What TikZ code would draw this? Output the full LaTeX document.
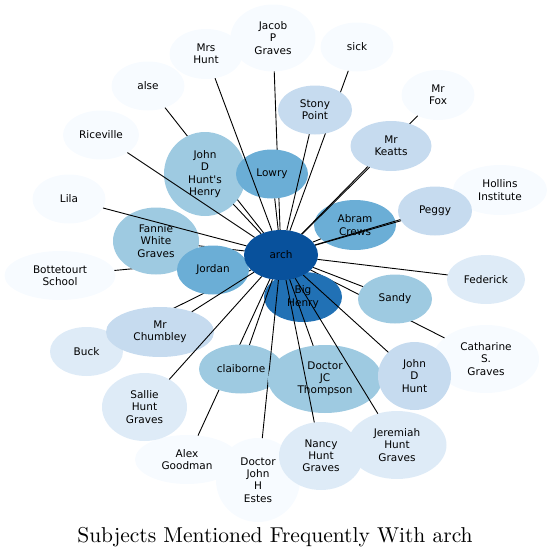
\documentclass[tikz,border=0pt]{standalone}
\usepackage{fontspec}
\usepackage{xcolor}
\usepackage{tikz}
\usetikzlibrary{shapes.geometric}
\newfontfamily\labelfont{DejaVu Sans}
\definecolor{archwhite}{HTML}{F7FBFF}
\definecolor{archpale}{HTML}{DEEBF7}
\definecolor{archlight}{HTML}{C6DBEF}
\definecolor{archsoft}{HTML}{9ECAE1}
\definecolor{archmid}{HTML}{6BAED6}
\definecolor{archdeep}{HTML}{2171B5}
\definecolor{archdark}{HTML}{08519C}
\pgfdeclarelayer{front}
\pgfsetlayers{main,front}

\begin{document}
\begin{tikzpicture}[
  x=1pt, y=-1pt,
  subj/.style={ellipse, inner sep=0pt, outer sep=0pt, align=center,
    font=\labelfont\fontsize{10.5}{12.2}\selectfont},
  link/.style={draw=black, line width=0.9pt}
]
\useasboundingbox (0,0) rectangle (552,557);
% the hub sits above everything else
\begin{pgfonlayer}{front}
\node[subj, fill=archdark, minimum width=74pt, minimum height=50pt] (arch) at (281,255) {arch};
\end{pgfonlayer}
% each node is followed by its link, so later nodes cover earlier links
\node[subj, fill=archwhite, minimum width=111pt, minimum height=49pt] (bottetourt) at (60,275.5) {Bottetourt\\School};
\draw[link] (arch) -- (bottetourt);
\node[subj, fill=archpale, minimum width=73pt, minimum height=49pt] (buck) at (86.5,351.5) {Buck};
\draw[link] (arch) -- (buck);
\node[subj, fill=archwhite, minimum width=73pt, minimum height=49pt] (alse) at (148,86) {alse};
\draw[link] (arch) -- (alse);
\node[subj, fill=archwhite, minimum width=85pt, minimum height=67pt] (jacob) at (273,38) {Jacob\\P\\Graves};
\draw[link] (arch) -- (jacob);
\node[subj, fill=archwhite, minimum width=104pt, minimum height=49pt] (goodman) at (187,459.5) {Alex\\Goodman};
\draw[link] (arch) -- (goodman);
\node[subj, fill=archwhite, minimum width=106pt, minimum height=68pt] (catharine) at (486,359) {Catharine\\S.\\Graves};
\draw[link] (arch) -- (catharine);
\node[subj, fill=archdeep, minimum width=78pt, minimum height=50pt] (bighenry) at (303,297) {Big\\Henry};
\draw[link] (arch) -- (bighenry);
\node[subj, fill=archsoft, minimum width=86pt, minimum height=67pt] (fannie) at (156,241) {Fannie\\White\\Graves};
\draw[link] (arch) -- (fannie);
\node[subj, fill=archmid, minimum width=72pt, minimum height=49pt] (jordan) at (213,270) {Jordan};
\draw[link] (arch) -- (jordan);
\node[subj, fill=archwhite, minimum width=73pt, minimum height=49pt] (lila) at (69,199) {Lila};
\draw[link] (arch) -- (lila);
\node[subj, fill=archsoft, minimum width=82pt, minimum height=84pt] (hunthenry) at (205,174) {John\\D\\Hunt's\\Henry};
\draw[link] (arch) -- (hunthenry);
\node[subj, fill=archwhite, minimum width=76pt, minimum height=49pt] (riceville) at (101,135) {Riceville};
\draw[link] (arch) -- (riceville);
\node[subj, fill=archmid, minimum width=72pt, minimum height=49pt] (lowry) at (272,174) {Lowry};
\draw[link] (arch) -- (lowry);
\node[subj, fill=archwhite, minimum width=73pt, minimum height=50pt] (mrshunt) at (206,54) {Mrs\\Hunt};
\draw[link] (arch) -- (mrshunt);
\node[subj, fill=archwhite, minimum width=73pt, minimum height=49pt] (sick) at (357,47) {sick};
\draw[link] (arch) -- (sick);
\node[subj, fill=archlight, minimum width=74pt, minimum height=49pt] (stony) at (315,110) {Stony\\Point};
\draw[link] (arch) -- (stony);
\node[subj, fill=archmid, minimum width=82pt, minimum height=50pt] (abram) at (355,225) {Abram\\Crews};
\draw[link] (arch) -- (abram);
\node[subj, fill=archwhite, minimum width=73pt, minimum height=50pt] (mrfox) at (438,95) {Mr\\Fox};
\draw[link] (arch) -- (mrfox);
\node[subj, fill=archlight, minimum width=81pt, minimum height=50pt] (keatts) at (391,146) {Mr\\Keatts};
\draw[link] (arch) -- (keatts);
\node[subj, fill=archwhite, minimum width=94pt, minimum height=50pt] (hollins) at (500,190) {Hollins\\Institute};
\draw[link] (arch) -- (hollins);
\node[subj, fill=archlight, minimum width=74pt, minimum height=49pt] (peggy) at (435,211) {Peggy};
\draw[link] (arch) -- (peggy);
\node[subj, fill=archpale, minimum width=78pt, minimum height=49pt] (federick) at (486,279.5) {Federick};
\draw[link] (arch) -- (federick);
\node[subj, fill=archsoft, minimum width=74pt, minimum height=49pt] (sandy) at (395,299) {Sandy};
\draw[link] (arch) -- (sandy);
\node[subj, fill=archlight, minimum width=108pt, minimum height=50pt] (chumbley) at (160,332) {Mr\\Chumbley};
\draw[link] (arch) -- (chumbley);
\node[subj, fill=archpale, minimum width=85pt, minimum height=68pt] (sallie) at (144.5,407) {Sallie\\Hunt\\Graves};
\draw[link] (arch) -- (sallie);
\node[subj, fill=archsoft, minimum width=84pt, minimum height=49pt] (claiborne) at (241,369) {claiborne};
\draw[link] (arch) -- (claiborne);
\node[subj, fill=archwhite, minimum width=84pt, minimum height=84pt] (estes) at (258,480) {Doctor\\John\\H\\Estes};
\draw[link] (arch) -- (estes);
\node[subj, fill=archsoft, minimum width=114pt, minimum height=68pt] (thompson) at (325,379) {Doctor\\JC\\Thompson};
\draw[link] (arch) -- (thompson);
\node[subj, fill=archlight, minimum width=73pt, minimum height=68pt] (johnhunt) at (414.5,376) {John\\D\\Hunt};
\draw[link] (arch) -- (johnhunt);
\node[subj, fill=archpale, minimum width=84pt, minimum height=68pt] (nancy) at (321,456) {Nancy\\Hunt\\Graves};
\draw[link] (arch) -- (nancy);
\node[subj, fill=archpale, minimum width=99pt, minimum height=68pt] (jeremiah) at (397,445) {Jeremiah\\Hunt\\Graves};
\draw[link] (arch) -- (jeremiah);
% caption
\node[anchor=base, inner sep=0pt] (caption) at (275,542)
  {\scalebox{2}{\fontsize{10.75}{13}\selectfont Subjects Mentioned Frequently With arch}};
\end{tikzpicture}
\end{document}
